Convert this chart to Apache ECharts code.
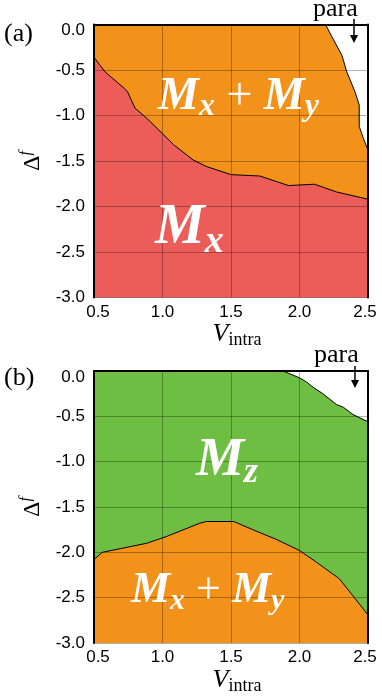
<!DOCTYPE html>
<html>
<head>
<meta charset="utf-8">
<script src="https://cdn.jsdelivr.net/npm/echarts@6/dist/echarts.min.js"></script>
<style>
  html, body { margin: 0; padding: 0; background: #fff; }
  #phase { width: 382px; height: 696px; }
</style>
</head>
<body>
<div id="phase"></div>
<script>
// tick labels
var vTicks = [0.5, 1.0, 1.5, 2.0, 2.5];
var dTicks = [0.0, -0.5, -1.0, -1.5, -2.0, -2.5, -3.0];

// panel (a): boundary Mx | Mx+My
var aLowV = [0.5, 0.58, 0.72, 0.745, 0.80, 0.885, 1.0, 1.08, 1.225, 1.32, 1.5, 1.71, 1.92, 2.11, 2.27, 2.5];
var aLowD = [-0.36, -0.52, -0.70, -0.74, -0.92, -1.03, -1.20, -1.32, -1.49, -1.56, -1.65, -1.665, -1.77, -1.755, -1.84, -1.92];
// panel (a): boundary Mx+My | para
var aParaV = [2.19, 2.235, 2.31, 2.345, 2.405, 2.436, 2.436, 2.466, 2.5];
var aParaD = [0.0, -0.13, -0.34, -0.52, -0.74, -0.885, -1.12, -1.25, -1.38];

// panel (b): boundary Mx+My | Mz
var bLowV = [0.5, 0.56, 0.885, 1.03, 1.27, 1.32, 1.52, 1.69, 1.835, 2.0, 2.125, 2.29, 2.39, 2.5];
var bLowD = [-2.08, -2.0, -1.90, -1.825, -1.68, -1.66, -1.66, -1.77, -1.86, -1.98, -2.11, -2.29, -2.48, -2.69];
// panel (b): boundary Mz | para
var bParaV = [1.88, 2.0, 2.05, 2.10, 2.17, 2.27, 2.32, 2.39, 2.5];
var bParaD = [0.0, -0.075, -0.12, -0.18, -0.25, -0.37, -0.40, -0.48, -0.56];

var ORANGE = "#F2921B";
var RED = "#EC5D5A";
var GREEN = "#6FBE44";

function zip(xs, ys) {
  return xs.map(function (x, i) { return [x, ys[i]]; });
}

var myChart = echarts.init(document.getElementById("phase"));

var tickFont = { color: "#000", fontSize: 17, fontFamily: "Liberation Sans" };

function mainX(grid) {
  return {
    type: "value", gridIndex: grid, position: "bottom",
    min: vTicks[0], max: vTicks[vTicks.length - 1], interval: 0.5, z: 5,
    axisLine: { show: true, lineStyle: { color: "#000", width: 2 } },
    axisTick: { show: false },
    axisLabel: {
      margin: 6, color: "#000", fontSize: 17, fontFamily: "Liberation Sans",
      formatter: function (v) {
        // first / last labels sit slightly inside the frame
        if (v === vTicks[0]) return "{l|" + v.toFixed(1) + "}";
        if (v === vTicks[vTicks.length - 1]) return "{r|" + v.toFixed(1) + "}";
        return v.toFixed(1);
      },
      rich: {
        l: Object.assign({ padding: [0, 0, 0, 8] }, tickFont),
        r: Object.assign({ padding: [0, 6, 0, 0] }, tickFont)
      }
    },
    splitLine: { show: true, lineStyle: { color: "rgba(0,0,0,0.3)", width: 1 } },
    name: "{v|V}{s|intra}",
    nameLocation: "middle",
    nameGap: 22,
    nameTextStyle: {
      padding: [0, 0, 0, 12],
      rich: {
        v: { fontFamily: "Liberation Serif", fontStyle: "italic", fontSize: 26, lineHeight: 30, color: "#000" },
        s: { fontFamily: "Liberation Serif", fontSize: 18, lineHeight: 19, verticalAlign: "bottom", color: "#000" }
      }
    }
  };
}
function mainY(grid) {
  return {
    type: "value", gridIndex: grid, position: "left",
    min: dTicks[dTicks.length - 1], max: dTicks[0], interval: 0.5, z: 5,
    axisLine: { show: true, lineStyle: { color: "#000", width: 2 } },
    axisTick: { show: false },
    axisLabel: {
      margin: 9, color: "#000", fontSize: 17, fontFamily: "Liberation Sans",
      formatter: function (v) {
        if (v === dTicks[0]) return "{t|0.0}";
        return v.toFixed(1);
      },
      rich: { t: Object.assign({ padding: [12, 0, 0, 0] }, tickFont) }
    },
    splitLine: { show: true, lineStyle: { color: "rgba(0,0,0,0.3)", width: 1 } },
    name: "{d|Δ}{f|f}",
    nameLocation: "middle",
    nameRotate: 90,
    nameGap: 40,
    nameTextStyle: {
      rich: {
        d: { fontFamily: "Liberation Serif", fontSize: 24, lineHeight: 30, color: "#000" },
        f: { fontFamily: "Liberation Serif", fontStyle: "italic", fontSize: 16, lineHeight: 19, verticalAlign: "top", color: "#000" }
      }
    }
  };
}
function frameAxis(kind, grid, pos) {
  var ax = {
    type: "value", gridIndex: grid, position: pos, z: 5,
    axisLine: { show: true, onZero: false, lineStyle: { color: "#000", width: 2 } },
    axisTick: { show: false }, axisLabel: { show: false }, splitLine: { show: false }
  };
  if (kind === "x") { ax.min = vTicks[0]; ax.max = vTicks[vTicks.length - 1]; }
  else { ax.min = dTicks[dTicks.length - 1]; ax.max = dTicks[0]; }
  return ax;
}
function region(xi, data, color, origin) {
  return {
    type: "line", xAxisIndex: xi, yAxisIndex: xi, data: data,
    symbol: "none", silent: true, z: 2,
    lineStyle: { color: "#000", width: 1 },
    areaStyle: { color: color, opacity: 1, origin: origin }
  };
}

// white phase labels (zrender text -> "fill")
var bigRich = function (m, s, lh, sl) {
  return {
    m: { fontFamily: "Liberation Serif", fontStyle: "italic", fontWeight: "bold", fontSize: m, lineHeight: lh, fill: "#fff" },
    s: { fontFamily: "Liberation Serif", fontStyle: "italic", fontWeight: "bold", fontSize: s, lineHeight: sl, verticalAlign: "bottom", fill: "#fff" },
    p: { fontFamily: "Liberation Serif", fontSize: m, lineHeight: lh, fill: "#fff" }
  };
};
function bigText(x, y, txt, rich) {
  return { type: "text", left: x, top: y, z: 10, silent: true,
    style: { text: txt, rich: rich, fill: "#fff" } };
}
function plain(x, y, txt, size) {
  return { type: "text", left: x, top: y, z: 10, silent: true,
    style: { text: txt, fontFamily: "Liberation Serif", fontSize: size, fill: "#000" } };
}
function arrow(x, y1, y2) {
  return [
    { type: "line", z: 10, silent: true, shape: { x1: x, y1: y1, x2: x, y2: y2 - 6 },
      style: { stroke: "#000", lineWidth: 1.5 } },
    { type: "polygon", z: 10, silent: true,
      shape: { points: [[x - 4, y2 - 8], [x + 4, y2 - 8], [x, y2]] }, style: { fill: "#000" } }
  ];
}

myChart.setOption({
  animation: false,
  grid: [
    { left: 94, top: 24.5, width: 274, height: 273, show: true, backgroundColor: ORANGE, borderWidth: 0 },
    { left: 94, top: 371, width: 274, height: 272, show: true, backgroundColor: GREEN, borderWidth: 0 }
  ],
  xAxis: [mainX(0), frameAxis("x", 0, "top"), mainX(1), frameAxis("x", 1, "top")],
  yAxis: [mainY(0), frameAxis("y", 0, "right"), mainY(1), frameAxis("y", 1, "right")],
  series: [
    region(0, zip(aLowV, aLowD), RED, "start"),
    region(0, zip(aParaV, aParaD), "#fff", "end"),
    region(2, zip(bLowV, bLowD), ORANGE, "start"),
    region(2, zip(bParaV, bParaD), "#fff", "end")
  ],
  graphic: [
    plain(4, 21, "(a)", 26),
    plain(4, 365, "(b)", 26),
    plain(313, -4, "para", 26),
    plain(314, 342, "para", 26),
    bigText(158, 74, "{m|M}{s|x}{p| + }{m|M}{s|y}", bigRich(46, 32, 52, 35)),
    bigText(155, 201, "{m|M}{s|x}", bigRich(56, 38, 64, 44)),
    bigText(196, 434, "{m|M}{s|z}", bigRich(54, 36, 60, 41)),
    bigText(131, 569, "{m|M}{s|x}{p| + }{m|M}{s|y}", bigRich(44, 30, 50, 34))
  ].concat(arrow(354, 19, 43), arrow(355, 366, 388))
});
</script>
</body>
</html>
